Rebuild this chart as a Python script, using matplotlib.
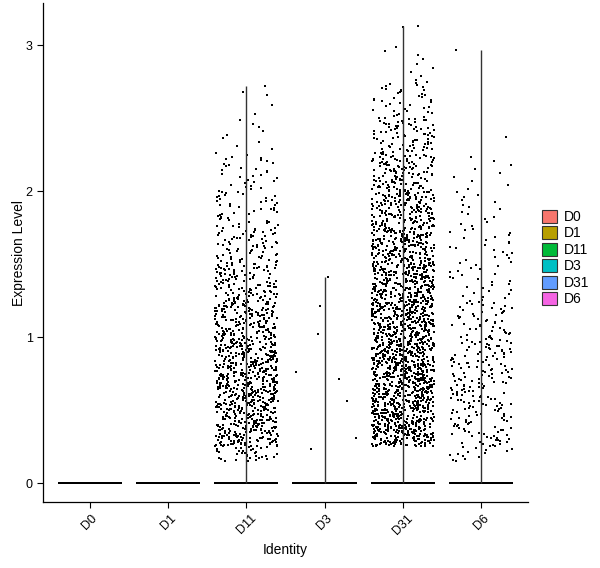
import numpy as np
import matplotlib
matplotlib.use("Agg")
import matplotlib.pyplot as plt
from matplotlib.patches import Patch

plt.rcParams['font.family'] = ['Liberation Sans', 'DejaVu Sans']

# identities and their fill colours (ggplot hue palette)
groups = ['D0', 'D1', 'D11', 'D3', 'D31', 'D6']
colors = ['#F8766D', '#B79F00', '#00BA38', '#00BFC4', '#619CFF', '#F564E3']

# cells with zero expression per identity (rough)
n_zero = [400, 400, 250, 400, 250, 250]

# expression histogram: bin edges and counts per bin
bin_edges = [0.15, 0.25, 0.5, 0.75, 1.0, 1.25, 1.5, 1.75, 2.0, 2.25, 2.5, 2.75, 3.0, 3.25]
d11_counts = [35, 190, 210, 195, 160, 115, 70, 45, 30, 10, 4, 0, 0]
d31_counts = [0, 270, 300, 290, 270, 240, 200, 160, 120, 80, 40, 9, 1]
d6_counts = [14, 55, 65, 62, 45, 25, 22, 15, 9, 1, 0, 0, 0]
# single cells read one by one
d3_values = [1.41, 1.21, 1.02, 0.76, 0.71, 0.56, 0.31, 0.23]
d11_max = 2.68
d31_max = 3.13
d6_max = 2.97

def from_hist(counts):
    vals = []
    for k, c in enumerate(counts):
        if c > 0:
            lo, hi = bin_edges[k], bin_edges[k + 1]
            vals.extend(lo + (np.arange(c) + 0.5) / c * (hi - lo))
    return vals

nonzero = {
    'D0': [],
    'D1': [],
    'D11': from_hist(d11_counts) + [d11_max],
    'D3': d3_values,
    'D31': from_hist(d31_counts) + [d31_max],
    'D6': from_hist(d6_counts) + [d6_max],
}

fig = plt.figure(figsize=(6.0, 5.68), dpi=100)
ax = fig.add_axes([43 / 600, 66 / 568, 485 / 600, 499 / 568])

rng = np.random.default_rng(3)  # jitter only
for i, g in enumerate(groups):
    x0 = i + 1
    vals = np.array(nonzero[g] + [0.0] * n_zero[i])
    # violin collapses to a thin line from 0 to the max
    if len(nonzero[g]) > 0:
        ax.vlines(x0, 0, vals.max(), color='#333333', lw=1.0, zorder=3)
    jit = rng.uniform(-0.4, 0.4, len(vals))
    ax.scatter(x0 + jit, vals, s=3.2, c='black', marker='s', linewidths=0, zorder=2)

ax.set_xlim(0.4, 6.6)
ax.set_ylim(-0.13, 3.29)
ax.set_xticks(range(1, len(groups) + 1))
ax.set_xticklabels(groups, rotation=45, ha='center', va='top')
ax.set_yticks([0, 1, 2, 3])
ax.tick_params(labelsize=9, length=4, width=0.8, colors='black')
for s in ['top', 'right']:
    ax.spines[s].set_visible(False)
for s in ['left', 'bottom']:
    ax.spines[s].set_linewidth(0.9)
ax.set_xlabel('Identity', fontsize=10)
ax.set_ylabel('Expression Level', fontsize=10, labelpad=0)

handles = [Patch(facecolor=c, edgecolor='#333333', lw=0.8, label=g) for g, c in zip(groups, colors)]
fig.legend(handles=handles, loc='center left', bbox_to_anchor=(535 / 600, 1 - 258 / 568),
           frameon=False, fontsize=10, handlelength=1.1, handleheight=1.1,
           handletextpad=0.5, labelspacing=0.15, borderpad=0)

fig.savefig('out.png', dpi=100)
